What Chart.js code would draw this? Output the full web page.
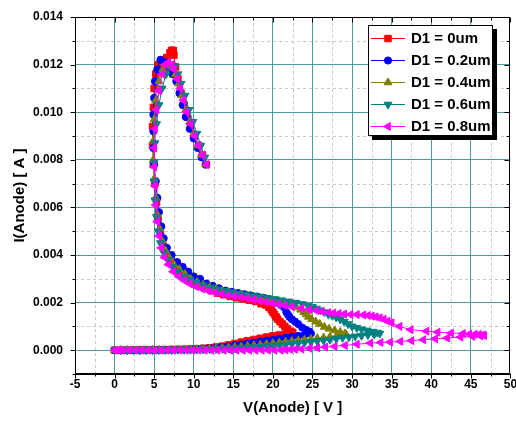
<!DOCTYPE html>
<html><head><meta charset="utf-8">
<script src="https://cdn.jsdelivr.net/npm/chart.js@4.4.1/dist/chart.umd.min.js"></script>
<style>html,body{margin:0;padding:0;background:#fff;}#wrap{width:516px;height:430px;position:relative;}canvas{display:block;}</style>
</head><body><div id="wrap"><canvas id="c" width="516" height="430"></canvas></div>
<script>
// ---------- DATA ----------
const seriesLabels = ['D1 = 0um', 'D1 = 0.2um', 'D1 = 0.4um', 'D1 = 0.6um', 'D1 = 0.8um'];

const v0 = [0,0.8,1.6,2.4,3.2,4,4.8,5.6,6.4,7.2,8,8.8,9.6,10.4,11.2,12,12.8,13.6,14.4,15.2,16,16.8,17.6,18.4,19.2,20,20.8,21.6,22.3,
  22.5,22.2,21.8,21.5,21.2,20.9,20.6,20.4,20.2,20,19.8,19.5,19.1,18.5,17.8,17,16.2,15.4,14.6,13.8,13,12.2,11.4,10.6,9.8,9,8.3,7.6,7,6.5,6.1,5.8,5.5,5.3,5.1,4.9,4.8,4.8,4.9,5,5.2,5.5,6,6.6,7,7.2,7.4,7.5,7.7,8,8.4,8.8,9.2,9.6,10.1,10.6,11.1,11.6];
const i0 = [0,0,0,0,0.00001,0.00001,0.00001,0.00002,0.00002,0.00003,0.00003,0.00004,0.00005,0.00006,0.00008,0.0001,0.00013,0.00017,0.00022,0.00028,0.00034,0.0004,0.00045,0.0005,0.00055,0.0006,0.00064,0.00068,0.0007,
  0.00075,0.0008,0.0009,0.001,0.0011,0.0012,0.0013,0.0014,0.0015,0.0016,0.0017,0.0018,0.0019,0.00195,0.00205,0.0021,0.00215,0.0022,0.00226,0.00233,0.0024,0.0025,0.0026,0.00272,0.00285,0.003,0.0032,0.0034,0.0037,0.004,0.0044,0.0049,0.0055,0.0062,0.007,0.0078,0.0086,0.0094,0.0102,0.011,0.0116,0.012,0.0122,0.0123,0.0125,0.0126,0.0126,0.0124,0.0119,0.0114,0.0108,0.0103,0.0098,0.0094,0.009,0.0086,0.0082,0.0078];

const v1 = [0,0.8,1.6,2.4,3.2,4,4.8,5.6,6.4,7.2,8,8.8,9.6,10.4,11.2,12,12.8,13.6,14.4,15.2,16,16.8,17.6,18.4,19.2,20,20.8,21.6,22.4,23.2,24,24.8,
  24.6,24.2,23.7,23.2,22.8,22.4,22.1,21.9,21.7,21.4,21,20.4,19.6,18.8,18,17.2,16.4,15.6,14.8,14,13.2,12.4,11.6,10.8,10,9.3,8.6,7.9,7.2,6.6,6.2,5.9,5.6,5.4,5.2,5,4.9,4.9,4.9,5,5.1,5.4,5.8,6.3,6.8,7.3,7.8,8.2,8.6,9,9.5,10,10.5,11,11.5];
const i1 = [0,0,0,0,0,0.00001,0.00001,0.00001,0.00002,0.00002,0.00003,0.00003,0.00004,0.00005,0.00006,0.00008,0.0001,0.00013,0.00016,0.0002,0.00024,0.00028,0.00032,0.00036,0.0004,0.00044,0.00048,0.00052,0.00056,0.0006,0.00065,0.0007,
  0.00078,0.00085,0.00095,0.0011,0.0012,0.0013,0.0014,0.0015,0.0016,0.0018,0.0019,0.002,0.00212,0.0022,0.00225,0.0023,0.00235,0.0024,0.00245,0.0025,0.0026,0.0027,0.0028,0.003,0.0031,0.0033,0.0035,0.0037,0.004,0.0043,0.0047,0.0052,0.0058,0.0064,0.0071,0.0078,0.0085,0.0092,0.0099,0.0106,0.0113,0.0118,0.0122,0.0121,0.0118,0.0116,0.0113,0.0108,0.0103,0.0098,0.0093,0.0089,0.0085,0.0081,0.0078];

const v2 = [0,0.8,1.6,2.4,3.2,4,4.8,5.6,6.4,7.2,8,8.8,9.6,10.4,11.2,12,12.8,13.6,14.4,15.2,16,16.8,17.6,18.4,19.2,20,20.8,21.6,22.4,23.2,24,24.8,25.6,26.4,27.2,28,28.7,29.3,
  29.1,28.5,27.8,27.1,26.5,25.9,25.4,24.9,24.5,24.2,23.9,23.5,23,22.4,21.6,20.8,20,19.2,18.4,17.6,16.8,16,15.2,14.4,13.6,12.8,12,11.2,10.4,9.6,8.9,8.2,7.5,6.9,6.4,6,5.7,5.4,5.2,5,4.9,4.9,5,5.2,5.6,6.1,6.7,7.2,7.7,8.1,8.5,9,9.5,10,10.5,11,11.5];
const i2 = [0,0,0,0,0,0,0.00001,0.00001,0.00001,0.00002,0.00002,0.00003,0.00003,0.00004,0.00005,0.00006,0.00007,0.00009,0.00011,0.00013,0.00015,0.00018,0.0002,0.00023,0.00026,0.00029,0.00032,0.00035,0.00038,0.00041,0.00044,0.00047,0.0005,0.00053,0.00056,0.00059,0.00062,0.00064,
  0.0007,0.00076,0.00083,0.0009,0.00098,0.0011,0.0012,0.0013,0.0014,0.0015,0.0016,0.0017,0.0018,0.0019,0.00198,0.00205,0.0021,0.00215,0.0022,0.00225,0.0023,0.00234,0.00238,0.00243,0.0025,0.00257,0.00265,0.00275,0.00287,0.003,0.0032,0.0034,0.0036,0.0039,0.0042,0.0046,0.0051,0.0057,0.0064,0.0072,0.008,0.0088,0.0097,0.0105,0.0113,0.0118,0.012,0.0119,0.0116,0.0112,0.0107,0.0101,0.0096,0.0091,0.0086,0.0082,0.0078];

const v3 = [0,0.8,1.6,2.4,3.2,4,4.8,5.6,6.4,7.2,8,8.8,9.6,10.4,11.2,12,12.8,13.6,14.4,15.2,16,16.8,17.6,18.4,19.2,20,20.8,21.6,22.4,23.2,24,24.8,25.6,26.4,27.2,28,28.8,29.6,30.4,31.2,32,32.8,33.5,
  33.2,32.6,31.9,31.2,30.6,30,29.5,29,28.5,28,27.5,27,26.5,26,25.5,25,24.4,23.7,22.9,22,21.1,20.2,19.3,18.4,17.5,16.6,15.7,14.8,13.9,13,12.1,11.2,10.3,9.5,8.7,8,7.3,6.7,6.2,5.8,5.5,5.3,5.1,5,5,5.1,5.3,5.6,6,6.5,7.1,7.6,8,8.4,8.9,9.4,9.9,10.4,10.9,11.4];
const i3 = [0,0,0,0,0,0,0,0.00001,0.00001,0.00001,0.00002,0.00002,0.00002,0.00003,0.00003,0.00004,0.00005,0.00006,0.00007,0.00008,0.0001,0.00011,0.00013,0.00015,0.00017,0.00019,0.00021,0.00023,0.00026,0.00029,0.00032,0.00035,0.00038,0.00041,0.00044,0.00048,0.00052,0.00055,0.00058,0.00061,0.00064,0.00067,0.0007,
  0.00074,0.00078,0.00083,0.00088,0.00094,0.001,0.0011,0.0012,0.0013,0.00138,0.00145,0.0015,0.0016,0.00168,0.00175,0.00182,0.00188,0.00194,0.002,0.00205,0.0021,0.00215,0.0022,0.00225,0.0023,0.00234,0.00238,0.00243,0.00249,0.00256,0.00264,0.00273,0.00284,0.00297,0.0031,0.0033,0.0035,0.0038,0.0041,0.0045,0.005,0.0056,0.0063,0.0071,0.0079,0.0087,0.0095,0.0103,0.011,0.0116,0.012,0.0119,0.0116,0.0112,0.0107,0.0101,0.0096,0.0091,0.0086,0.0081];

const v4 = [0,0.5,1,1.8,2.6,3.4,4.2,5,5.8,6.6,7.4,8.2,9,9.8,10.6,11.4,12.2,13,13.8,14.6,15.4,16.2,17,17.8,18.6,19.4,20.2,21,21.6,22.2,22.8,23.6,24.6,25.6,26.6,27.8,29.1,30.6,32.3,33.6,34.8,36.1,37.5,39,40.5,42,43.7,45.2,46.2,46.7,
  46.5,46,45.5,44.8,44,42.5,40.8,39.4,37.4,36,35,34.5,34,33.5,33,32.5,32,31.4,30.6,29.8,29,28.3,27.6,27,26.2,25.5,24.6,23.6,22.4,21.5,20.7,19.9,19.1,18.3,17.5,16.7,15.9,15.1,14.3,13.5,12.7,11.9,11.1,10.3,9.5,8.8,8.1,7.4,6.8,6.3,5.9,5.6,5.4,5.2,5.1,5,5,5.1,5.3,5.6,6,6.4,6.8,7.2,7.5,7.9,8.3,8.7,9.1,9.6,10.1,10.6,11.1,11.6];
const i4 = [0,0,0,0,0,0,0,0,0,0,0,0,0,0,0,0,0,0,0,0,0,0,0,0,0,0,0,0,0.00002,0.00003,0.00004,0.00005,0.00008,0.0001,0.00013,0.00016,0.0002,0.00025,0.0003,0.00032,0.00034,0.00037,0.0004,0.00044,0.00048,0.00051,0.00055,0.00058,0.0006,0.00062,
  0.00064,0.00066,0.00067,0.00068,0.0007,0.00072,0.00076,0.0008,0.00086,0.001,0.00115,0.00122,0.0013,0.00136,0.0014,0.00143,0.00146,0.00148,0.0015,0.0015,0.00152,0.00154,0.00156,0.00158,0.00162,0.00166,0.0017,0.00176,0.00182,0.00188,0.00193,0.00198,0.00203,0.00208,0.00213,0.00218,0.00222,0.00226,0.0023,0.00236,0.00242,0.00249,0.00257,0.00267,0.00279,0.00293,0.0031,0.0033,0.0036,0.0039,0.0043,0.0048,0.0054,0.0061,0.0069,0.0077,0.0085,0.0093,0.0101,0.0109,0.0116,0.012,0.0121,0.012,0.0118,0.0114,0.011,0.0105,0.01,0.0095,0.009,0.0086,0.0082,0.0078];

const xTickLabels = ['-5','0','5','10','15','20','25','30','35','40','45','50'];
const yTickLabels = ['0.000','0.002','0.004','0.006','0.008','0.010','0.012','0.014'];

// ---------- STYLE ----------
const colors = ['#FF0000', '#0000FF', '#808000', '#008080', '#FF00FF'];
const styles = ['rect', 'circle', 'triangle', 'triangle', 'triangle'];
const rotations = [0, 0, 0, 180, 270];
const radii = [4.6, 3.6, 4.6, 4.6, 4.6];
const drawOrder = [4, 3, 2, 1, 0];
const FONT = "'Liberation Sans', Arial, sans-serif";
const GRID_MAJOR = '#4f9a9a';
const GRID_MINOR = '#c8c8c8';

const isMajorX = v => Math.abs(v / 5 - Math.round(v / 5)) < 1e-6;
const isMajorY = v => Math.abs(v / 0.002 - Math.round(v / 0.002)) < 1e-6;

const allV = [v0, v1, v2, v3, v4], allI = [i0, i1, i2, i3, i4];
const datasets = seriesLabels.map((lab, k) => ({
  label: lab,
  data: allV[k].map((v, j) => ({x: v, y: allI[k][j]})),
  showLine: true,
  borderColor: colors[k],
  backgroundColor: colors[k],
  borderWidth: 1,
  pointStyle: styles[k],
  pointRotation: rotations[k],
  pointRadius: radii[k],
  pointBorderWidth: 1,
  pointBorderColor: colors[k],
  pointBackgroundColor: colors[k],
  order: drawOrder[k]
}));

function drawMarker(ctx, style, r, rot, x, y, color) {
  ctx.save();
  ctx.fillStyle = color; ctx.strokeStyle = color; ctx.lineWidth = 1;
  ctx.beginPath();
  if (style === 'rect') { const s = r * Math.SQRT1_2; ctx.rect(x - s, y - s, 2 * s, 2 * s); }
  else if (style === 'circle') { ctx.arc(x, y, r, 0, Math.PI * 2); }
  else {
    let rad = rot * Math.PI / 180;
    ctx.moveTo(x + Math.sin(rad) * r, y - Math.cos(rad) * r);
    rad += 2 * Math.PI / 3;
    ctx.lineTo(x + Math.sin(rad) * r, y - Math.cos(rad) * r);
    rad += 2 * Math.PI / 3;
    ctx.lineTo(x + Math.sin(rad) * r, y - Math.cos(rad) * r);
    ctx.closePath();
  }
  ctx.fill(); ctx.stroke();
  ctx.restore();
}

const framePlugin = {
  id: 'frame',
  beforeDatasetsDraw(chart) {
    const {ctx, chartArea: a, scales: {x, y}} = chart;
    ctx.save();
    ctx.strokeStyle = GRID_MINOR; ctx.lineWidth = 1; ctx.setLineDash([3, 3]);
    x.ticks.forEach(t => {
      if (isMajorX(t.value)) return;
      const px = Math.round(x.getPixelForValue(t.value)) + 0.5;
      ctx.beginPath(); ctx.moveTo(px, a.top); ctx.lineTo(px, a.bottom); ctx.stroke();
    });
    y.ticks.forEach(t => {
      if (isMajorY(t.value) || t.value < 0) return;
      const py = Math.round(y.getPixelForValue(t.value)) + 0.5;
      ctx.beginPath(); ctx.moveTo(a.left, py); ctx.lineTo(a.right, py); ctx.stroke();
    });
    ctx.restore();
  },
  afterDatasetsDraw(chart) {
    const {ctx, chartArea: a, scales: {x, y}} = chart;
    ctx.save();
    ctx.strokeStyle = '#000'; ctx.lineWidth = 1;
    const L = Math.round(a.left) + 0.5, R = Math.round(a.right) - 0.5, T = Math.round(a.top) + 0.5, B = Math.round(a.bottom) - 0.5;
    ctx.beginPath(); ctx.rect(L, T, R - L, B - T); ctx.stroke();
    x.ticks.forEach(t => {
      const px = Math.round(x.getPixelForValue(t.value)) + 0.5;
      const len = isMajorX(t.value) ? 5 : 3;
      ctx.beginPath(); ctx.moveTo(px, T); ctx.lineTo(px, T + len); ctx.stroke();
      ctx.beginPath(); ctx.moveTo(px, B); ctx.lineTo(px, B + len); ctx.stroke();
    });
    y.ticks.forEach(t => {
      const py = Math.round(y.getPixelForValue(t.value)) + 0.5;
      const len = isMajorY(t.value) ? 5 : 3;
      ctx.beginPath(); ctx.moveTo(R, py); ctx.lineTo(R - len, py); ctx.stroke();
      ctx.beginPath(); ctx.moveTo(L, py); ctx.lineTo(L - len, py); ctx.stroke();
    });
    ctx.restore();
  },
  afterDraw(chart) {
    const ctx = chart.ctx;
    const bx = 368, by = 25, bw = 125, bh = 111;
    ctx.save();
    ctx.fillStyle = '#000';
    ctx.fillRect(bx + 4, by + 4, bw, bh);
    ctx.fillStyle = '#fff';
    ctx.fillRect(bx, by, bw, bh);
    ctx.strokeStyle = '#000'; ctx.lineWidth = 1;
    ctx.strokeRect(bx + 0.5, by + 0.5, bw - 1, bh - 1);
    ctx.font = 'bold 15px ' + FONT;
    ctx.textBaseline = 'middle'; ctx.textAlign = 'left';
    seriesLabels.forEach((lab, k) => {
      const yy = by + 13 + k * 22;
      ctx.strokeStyle = colors[k]; ctx.lineWidth = 1;
      ctx.beginPath(); ctx.moveTo(bx + 3, yy + 0.5); ctx.lineTo(bx + 37, yy + 0.5); ctx.stroke();
      drawMarker(ctx, styles[k], radii[k], rotations[k], bx + 20, yy + 0.5, colors[k]);
      ctx.fillStyle = '#000';
      ctx.fillText(lab, bx + 43, yy + 1);
    });
    ctx.restore();
  }
};

new Chart(document.getElementById('c'), {
  type: 'scatter',
  data: { datasets },
  plugins: [framePlugin],
  options: {
    responsive: false,
    animation: false,
    devicePixelRatio: 1,
    layout: { padding: { top: 17, right: 4, left: 0, bottom: 0 } },
    plugins: { legend: { display: false }, tooltip: { enabled: false } },
    scales: {
      x: {
        type: 'linear', min: -5, max: 50,
        afterFit: s => { s.height = 56; s.paddingLeft = 0; s.paddingRight = 0; },
        ticks: {
          stepSize: 2.5, autoSkip: false, maxRotation: 0, padding: -2, color: '#000',
          font: { family: FONT, size: 12, weight: 'bold' },
          callback: v => isMajorX(v) ? xTickLabels[Math.round((v + 5) / 5)] : ''
        },
        grid: {
          color: c => isMajorX(c.tick.value) && c.tick.value > -5 && c.tick.value < 50 ? GRID_MAJOR : 'rgba(0,0,0,0)',
          tickColor: 'rgba(0,0,0,0)', tickLength: 5, lineWidth: 1
        },
        border: { display: true, color: '#000', width: 1 },
        title: { display: true, text: 'V(Anode) [ V ]', color: '#000', font: { family: FONT, size: 15, weight: 'bold' }, padding: { top: 4, bottom: 13 } }
      },
      y: {
        type: 'linear', min: -0.001, max: 0.014,
        afterFit: s => { s.width = 75; s.paddingTop = 0; s.paddingBottom = 0; },
        ticks: {
          stepSize: 0.001, autoSkip: false, padding: 7, color: '#000',
          font: { family: FONT, size: 12, weight: 'bold' },
          callback: v => (isMajorY(v) && v >= 0) ? yTickLabels[Math.round(v / 0.002)] : ''
        },
        grid: {
          color: c => isMajorY(c.tick.value) && c.tick.value > -0.0005 && c.tick.value < 0.0135 ? GRID_MAJOR : 'rgba(0,0,0,0)',
          tickColor: 'rgba(0,0,0,0)', tickLength: 5, lineWidth: 1
        },
        border: { display: true, color: '#000', width: 1 },
        title: { display: true, text: 'I(Anode) [ A ]', color: '#000', font: { family: FONT, size: 15, weight: 'bold' }, padding: { top: 11, bottom: 4 } }
      }
    }
  }
});
</script>
</body></html>
